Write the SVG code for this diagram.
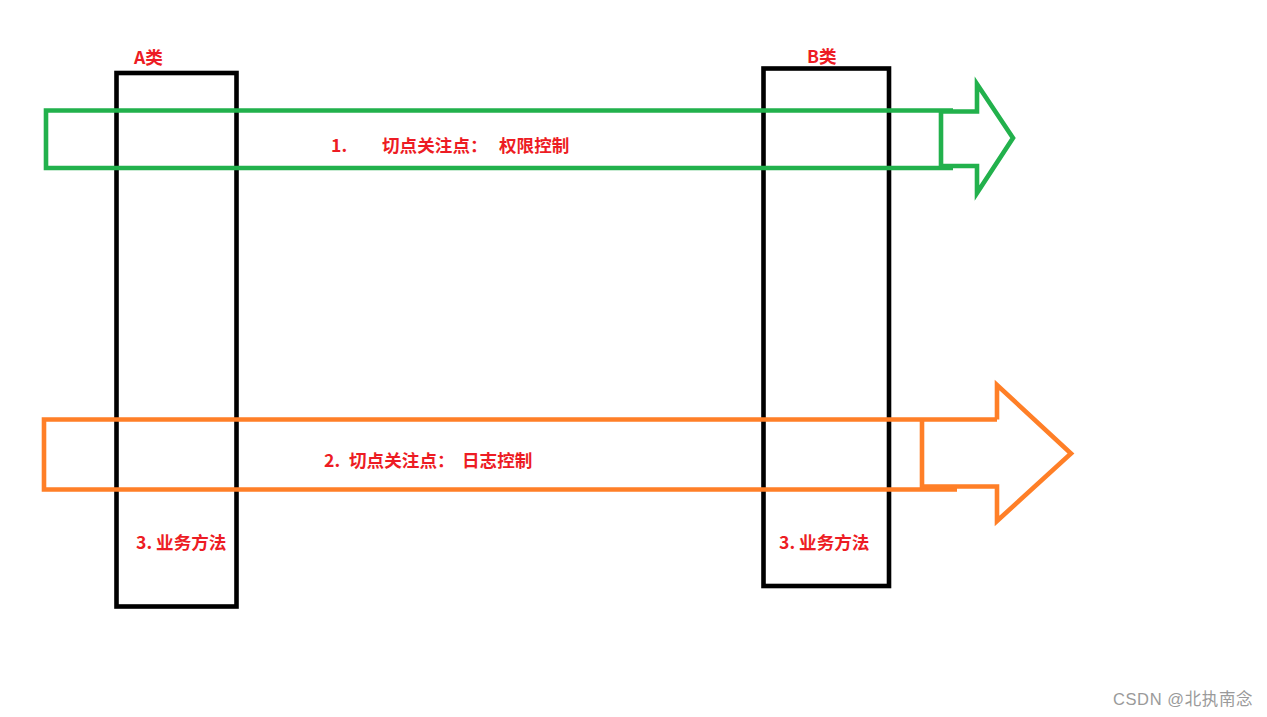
<svg xmlns="http://www.w3.org/2000/svg" width="1267" height="717" viewBox="0 0 1267 717">
<style>
.cls{fill:none;stroke:#000;stroke-width:4.6}
.g{fill:none;stroke:#22B14C;stroke-width:4.6;stroke-linejoin:miter}
.o{fill:none;stroke:#FF7F27;stroke-width:4.6;stroke-linejoin:miter}
.lbl{font-family:"Noto Sans CJK SC","Liberation Sans",sans-serif;font-weight:bold;font-size:17.6px;fill:#ED1C24}
.wm{font-family:"Liberation Sans","Noto Sans CJK SC",sans-serif;font-size:16.5px;letter-spacing:0.6px;fill:#9a9a9a}
</style>
<rect width="1267" height="717" fill="#fff"/>
<g id="classA">
<rect class="cls" x="116.5" y="73" width="120" height="533.5"/>
<text class="lbl" x="134" y="64">A类</text>
<text class="lbl" x="136" y="548.5">3. 业务方法</text>
</g>
<g id="classB">
<rect class="cls" x="763.5" y="68.5" width="125.5" height="517.5"/>
<text class="lbl" x="807" y="63">B类</text>
<text class="lbl" x="779" y="548.5">3. 业务方法</text>
</g>
<g id="connectors">
<g id="aspect1">
<polyline class="g" points="953,110.5 46,110.5 46,168 953,168"/>
<polyline class="g" points="941,111 941,166 977,166 977,193 1013,138 977,84 977,111.5 941,111.5"/>
<text class="lbl" x="331" y="152">1.<tspan x="382">切点关注点：</tspan><tspan x="499">权限控制</tspan></text>
</g>
<g id="aspect2">
<polyline class="g o" points="997,419.5 44,419.5 44,489.5 957,489.5"/>
<polyline class="o" points="922,419.5 922,486.5 997,486.5 997,521 1071,453.5 997,385 997,419.5"/>
<text class="lbl" x="324" y="467">2.<tspan x="349">切点关注点：</tspan><tspan x="462">日志控制</tspan></text>
</g>
</g>
<text class="wm" x="1113" y="704.5">CSDN @北执南念</text>
</svg>
